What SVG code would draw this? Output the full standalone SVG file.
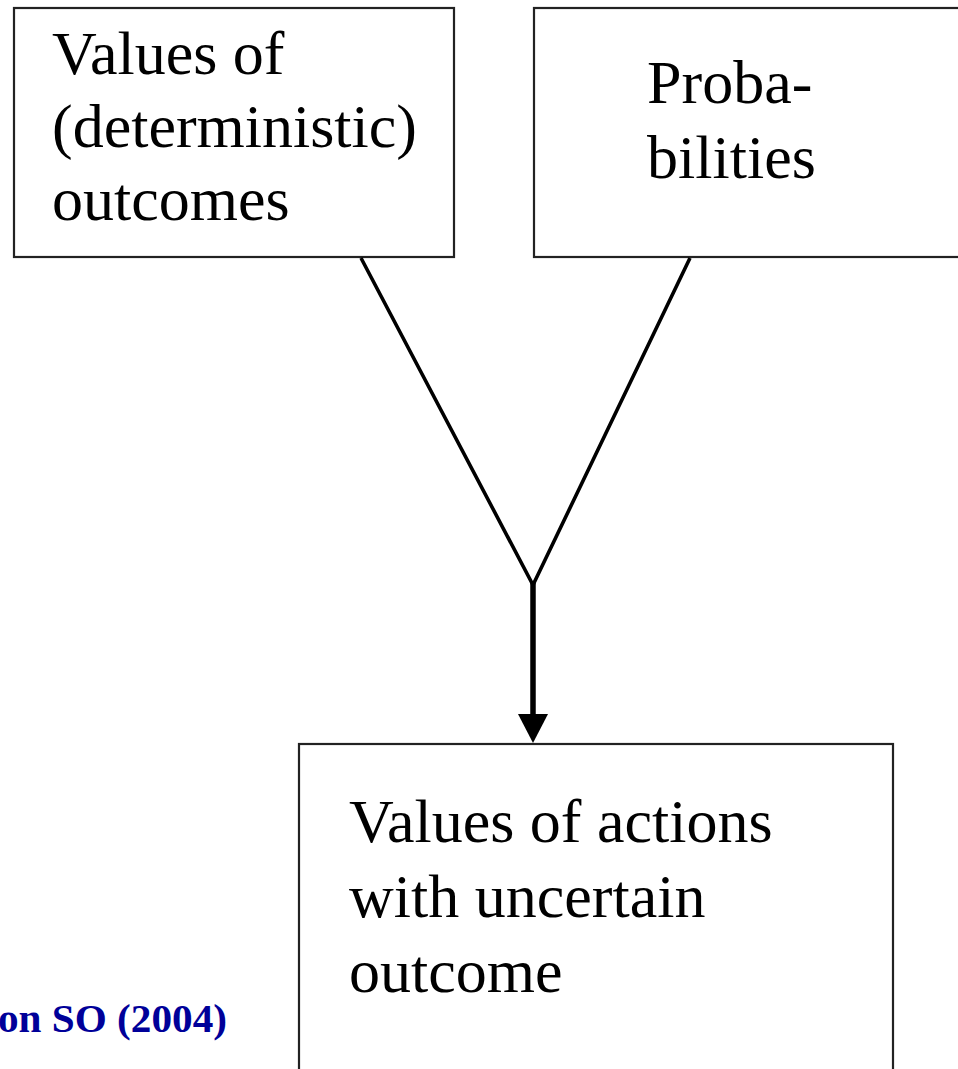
<svg xmlns="http://www.w3.org/2000/svg" width="958" height="1069" viewBox="0 0 958 1069">
<style>
.box{fill:#fff;stroke:#222;stroke-width:2.2}
.t{font-family:"Liberation Serif","Times New Roman",serif;font-size:62px;fill:#000}
.c{stroke:#000;fill:none;stroke-linecap:butt}
</style>
<defs>
<marker id="ah" markerUnits="userSpaceOnUse" markerWidth="32" markerHeight="32" refX="3" refY="16" orient="auto" viewBox="0 0 32 32">
<path d="M2,1 L2,31 L31,16 Z" fill="#000"/>
</marker>
</defs>
<rect width="958" height="1069" fill="#fff"/>
<g id="node-values-deterministic">
<rect class="box" x="14" y="8" width="440" height="249"/>
<text class="t" x="52" y="74">Values of</text>
<text class="t" x="52" y="147">(deterministic)</text>
<text class="t" x="52" y="220">outcomes</text>
</g>
<g id="node-probabilities">
<rect class="box" x="534" y="8" width="440" height="249"/>
<text class="t" x="647" y="103">Proba-</text>
<text class="t" x="647" y="178">bilities</text>
</g>
<g id="node-values-actions">
<rect class="box" x="299" y="744" width="594" height="340"/>
<text class="t" x="349" y="842">Values of actions</text>
<text class="t" x="349" y="917">with uncertain</text>
<text class="t" x="349" y="992">outcome</text>
</g>
<g id="connectors">
<polyline class="c" stroke-width="3.6" points="361,258 533,585 690,258"/>
<line class="c" x1="533" y1="583" x2="533" y2="715" stroke-width="5.5" marker-end="url(#ah)"/>
</g>
<text x="-2" y="1032" font-family="Liberation Serif, serif" font-weight="bold" font-size="40" fill="#000099" textLength="229" lengthAdjust="spacingAndGlyphs">on SO (2004)</text>
</svg>
